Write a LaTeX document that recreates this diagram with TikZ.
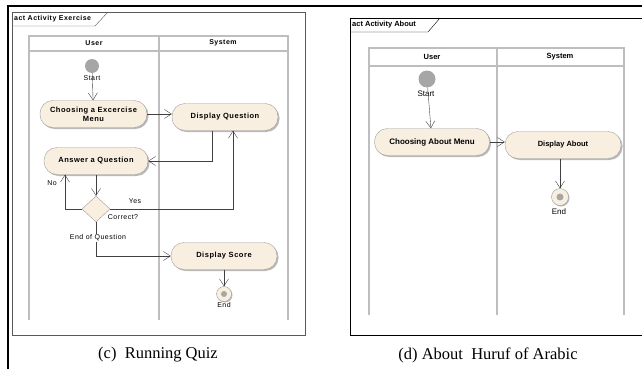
\documentclass[tikz,border=0pt]{standalone}
\usepackage{fontspec}
\setmainfont{Liberation Serif}
\newfontfamily\umlfont{Liberation Sans}
\newfontfamily\umlspaced[LetterSpace=7]{Liberation Sans}
\usepackage{tikz}
\usetikzlibrary{arrows.meta,shapes.geometric,shadows}

\definecolor{actfill}{HTML}{F8EFE1}
\definecolor{actline}{HTML}{9C9C9C}
\definecolor{lanegray}{HTML}{BEBEBE}

\begin{document}
\begin{tikzpicture}[x=1pt,y=-1pt,
    action/.style={draw=actline,fill=actfill,rounded corners=13pt,minimum height=27pt,
      align=center,inner sep=1pt,font=\umlspaced\bfseries\fontsize{7.5}{9}\selectfont,
      drop shadow={shadow xshift=1.5pt,shadow yshift=-1.5pt,fill=black!45,opacity=.6}},
    startdot/.style={circle,fill=black!35,inner sep=0pt},
    enddot/.style={circle,draw=actline,fill=actfill,inner sep=0pt,minimum size=15pt,
      drop shadow={shadow xshift=1pt,shadow yshift=-1pt,fill=black!45,opacity=.6}},
    decision/.style={diamond,draw=actline,fill=actfill,inner sep=0pt,minimum width=28pt,minimum height=26pt},
    flow/.style={draw=black!75,-{Straight Barb[length=7pt,width=9pt]}},
    small/.style={font=\umlspaced\fontsize{7}{8}\selectfont,inner sep=1pt},
    lane/.style={draw=lanegray,line width=1.2pt},
    caption/.style={font=\fontsize{16.5}{18}\selectfont}]
  \useasboundingbox (0,0) rectangle (642,369);
  \draw [line width=2pt] (8,369) -- (8,6) -- (642,6);

  % left: activity exercise
  \draw [black!65] (12,12) rectangle (305,335);
  \draw [black!65] (12,26) -- (95,26) -- (108,12);
  \node [small,font=\umlspaced\bfseries\fontsize{7}{8}\selectfont,anchor=west] at (13,19) {act Activity Exercise};
  \draw [lane] (29,36) rectangle (288,51);
  \draw [lane] (29,51) -- (29,320);
  \draw [lane] (159,36) -- (159,320);
  \draw [lane] (288,51) -- (288,320);
  \node [small,font=\umlspaced\bfseries\fontsize{7}{8}\selectfont] at (94,43) {User};
  \node [small,font=\umlspaced\bfseries\fontsize{7}{8}\selectfont] at (223,43) {System};

  \node [startdot,minimum size=14pt] (start) at (92,66) {};
  \node [small] at (92,78) {Start};
  \node [action,minimum width=107pt] (choose) at (93.5,114) {Choosing a Excercise\\Menu};
  \node [action,minimum width=106pt] (question) at (225,117) {Display Question};
  \node [action,minimum width=104pt] (answer) at (96,161) {Answer a Question};
  \node [decision] (correct) at (96,209) {};
  \node [action,minimum width=106pt] (score) at (224,256) {Display Score};
  \node [enddot] (finish) at (224,294) {};
  \fill [black!35] (finish) circle (3pt);
  \node [small] at (224,305) {End};

  \draw [flow] (start) -- (choose);
  \draw [flow] (choose.east) -- (question.west |- choose.east);
  \draw [flow] ([xshift=-13pt]question.south) |- (answer.east);
  \draw [flow] (answer) -- (correct);
  \draw [flow] (correct.west) -| ([xshift=-31pt]answer.south);
  \draw [flow] (correct.east) -| ([xshift=8pt]question.south);
  \draw [flow] (correct.south) |- (score.west);
  \draw [flow] (score) -- (finish);
  \node [small] at (52,183) {No};
  \node [small] at (135,201) {Yes};
  \node [small] at (123,217) {Correct?};
  \node [small,fill=white] at (98,238) {End of Question};

  % right: activity about
  \draw [black] (660,18) -- (350,18) -- (350,335) -- (660,335);
  \draw [black] (350,32) -- (428,32) -- (440,18);
  \node [small,font=\umlfont\bfseries\fontsize{7.5}{8}\selectfont,anchor=west] at (351,25) {act Activity About};
  \draw [lane] (369,48) rectangle (624,66);
  \draw [lane] (369,66) -- (369,315);
  \draw [lane] (497,48) -- (497,315);
  \draw [lane] (624,66) -- (624,315);
  \node [small,font=\umlfont\bfseries\fontsize{7.5}{8}\selectfont] at (432,57) {User};
  \node [small,font=\umlfont\bfseries\fontsize{7.5}{8}\selectfont] at (560,57) {System};

  \node [startdot,minimum size=17pt] (start2) at (427,79) {};
  \node [small,font=\umlfont\fontsize{8}{9}\selectfont] at (426,94) {Start};
  \node [action,minimum width=115pt,font=\umlfont\bfseries\fontsize{8}{9}\selectfont] (about) at (432,142) {Choosing About Menu};
  \node [action,minimum width=116pt,font=\umlfont\bfseries\fontsize{7.5}{9}\selectfont] (showabout) at (563,145) {Display About};
  \node [enddot,minimum size=17pt] (finish2) at (560,197) {};
  \fill [black!35] (finish2) circle (3.5pt);
  \node [small,font=\umlfont\fontsize{8}{9}\selectfont] at (559,212) {End};

  \draw [flow] (start2) -- (about);
  \draw [flow] (about.east) -- (showabout.west |- about.east);
  \draw [flow] (showabout.south -| finish2) -- (finish2);

  \node [caption] at (158,355) {(c)\ \ Running Quiz};
  \node [caption] at (488,355) {(d) About\ \ Huruf of Arabic};
\end{tikzpicture}
\end{document}
